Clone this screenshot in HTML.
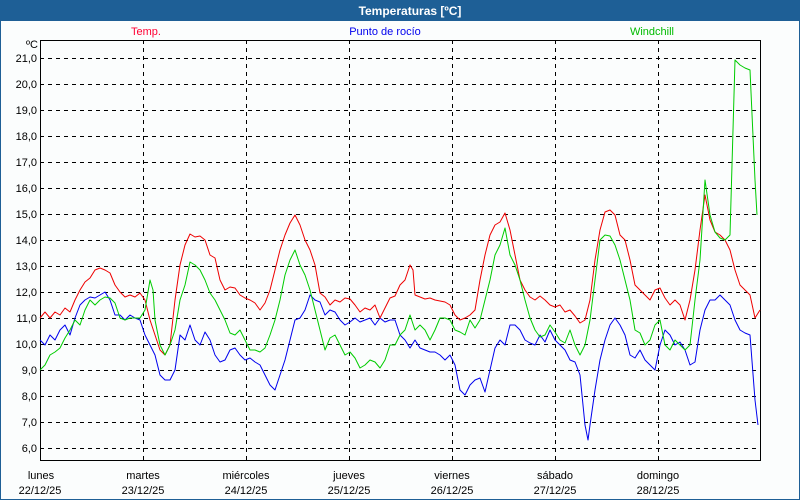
<!DOCTYPE html>
<html><head><meta charset="utf-8"><style>
html,body{margin:0;padding:0;background:#fff;}
svg{display:block;font-family:"Liberation Sans",sans-serif;}
</style></head><body>
<svg width="800" height="500" viewBox="0 0 800 500">
<rect x="0" y="0" width="800" height="500" fill="#fbfdfd"/>
<rect x="0" y="0" width="800" height="21" fill="#1e5f96"/>
<rect x="0.5" y="20.5" width="799" height="479" fill="none" stroke="#1e5f96"/>
<text x="410" y="15" fill="#fff" font-size="12" font-weight="bold" text-anchor="middle">Temperaturas [ºC]</text>
<text x="146" y="35" fill="#ff0033" font-size="11" text-anchor="middle">Temp.</text>
<text x="385" y="35" fill="#0000ee" font-size="11" text-anchor="middle">Punto de rocío</text>
<text x="652" y="35" fill="#00bb00" font-size="11" text-anchor="middle">Windchill</text>
<g stroke="#000" stroke-dasharray="4,4" stroke-width="1">
<line x1="40" x2="760" y1="58.5" y2="58.5"/><line x1="40" x2="760" y1="84.5" y2="84.5"/><line x1="40" x2="760" y1="110.5" y2="110.5"/><line x1="40" x2="760" y1="136.5" y2="136.5"/><line x1="40" x2="760" y1="162.5" y2="162.5"/><line x1="40" x2="760" y1="188.5" y2="188.5"/><line x1="40" x2="760" y1="214.5" y2="214.5"/><line x1="40" x2="760" y1="240.5" y2="240.5"/><line x1="40" x2="760" y1="266.5" y2="266.5"/><line x1="40" x2="760" y1="292.5" y2="292.5"/><line x1="40" x2="760" y1="318.5" y2="318.5"/><line x1="40" x2="760" y1="344.5" y2="344.5"/><line x1="40" x2="760" y1="370.5" y2="370.5"/><line x1="40" x2="760" y1="396.5" y2="396.5"/><line x1="40" x2="760" y1="422.5" y2="422.5"/><line x1="40" x2="760" y1="448.5" y2="448.5"/>
<line x1="143.5" x2="143.5" y1="40" y2="461"/><line x1="246.5" x2="246.5" y1="40" y2="461"/><line x1="349.5" x2="349.5" y1="40" y2="461"/><line x1="452.5" x2="452.5" y1="40" y2="461"/><line x1="555.5" x2="555.5" y1="40" y2="461"/><line x1="658.5" x2="658.5" y1="40" y2="461"/>
</g>
<rect x="40.5" y="40.5" width="720" height="420" fill="none" stroke="#000"/>
<g font-size="11" fill="#000" text-anchor="end">
<text x="38" y="48">ºC</text>
<text x="37" y="62">21,0</text><text x="37" y="88">20,0</text><text x="37" y="114">19,0</text><text x="37" y="140">18,0</text><text x="37" y="166">17,0</text><text x="37" y="192">16,0</text><text x="37" y="218">15,0</text><text x="37" y="244">14,0</text><text x="37" y="270">13,0</text><text x="37" y="296">12,0</text><text x="37" y="322">11,0</text><text x="37" y="348">10,0</text><text x="37" y="374">9,0</text><text x="37" y="400">8,0</text><text x="37" y="426">7,0</text><text x="37" y="452">6,0</text>
</g>
<g font-size="11" fill="#000" text-anchor="middle">
<text x="41" y="479">lunes</text><text x="40" y="494">22/12/25</text>
<text x="143" y="479">martes</text><text x="143" y="494">23/12/25</text>
<text x="246" y="479">miércoles</text><text x="246" y="494">24/12/25</text>
<text x="349" y="479">jueves</text><text x="349" y="494">25/12/25</text>
<text x="452" y="479">viernes</text><text x="452" y="494">26/12/25</text>
<text x="555" y="479">sábado</text><text x="555" y="494">27/12/25</text>
<text x="658" y="479">domingo</text><text x="658" y="494">28/12/25</text>
</g>
<g fill="none" stroke-width="1" stroke-linejoin="round">
<polyline stroke="#0000ee" points="40,340 45,345 50,335 55,340 60,330 65,325 70,335 75,318 80,305 85,300 90,297 95,298 100,295 105,292 110,300 115,315 120,315 125,320 130,315 135,318 140,320 145,335 150,345 155,355 160,375 165,380 170,380 175,370 180,335 185,340 190,325 195,340 200,345 205,332 210,340 215,355 220,362 225,360 230,350 235,348 240,355 245,360 250,358 255,362 260,365 265,375 270,385 275,390 280,375 285,360 290,340 295,320 300,318 305,310 310,295 315,300 320,302 325,315 330,310 335,312 340,320 345,325 350,322 355,318 360,322 365,320 370,318 375,325 380,318 385,322 390,320 395,320 400,335 405,340 410,348 415,340 420,348 425,350 430,352 435,352 440,355 445,360 450,355 455,365 460,390 465,395 470,385 475,380 480,378 485,392 490,370 495,348 500,340 505,345 510,325 515,325 520,330 525,340 530,343 535,345 540,335 545,342 550,330 555,340 560,345 565,350 570,360 575,362 580,375 585,425 588,440 590,425 595,390 600,360 605,340 610,325 615,318 620,325 625,335 630,355 635,358 640,350 645,360 650,365 655,370 660,345 665,330 670,335 675,345 680,342 685,350 690,365 695,362 700,330 705,310 710,300 715,300 720,295 725,300 730,305 735,320 740,330 745,333 750,335 755,400 758,425"/>
<polyline stroke="#ee0000" points="40,318 45,312 50,318 55,312 60,315 65,308 70,312 75,300 80,290 85,282 90,278 95,270 100,268 105,270 110,273 115,285 120,292 125,297 130,295 135,297 140,293 145,300 150,320 155,335 160,350 165,355 170,345 175,300 180,265 185,245 190,234 195,237 200,236 205,240 210,255 215,258 220,280 225,290 230,287 235,288 240,295 245,298 250,300 255,303 260,310 265,303 270,290 275,270 280,250 285,235 290,223 295,215 300,225 305,240 310,250 315,265 320,293 325,297 330,305 335,300 340,302 345,298 350,299 355,305 360,312 365,308 370,310 375,305 380,318 385,308 390,298 395,296 400,285 405,280 410,265 413,270 415,295 420,297 425,299 430,298 435,300 440,301 445,302 450,305 455,315 460,320 465,318 470,315 475,310 480,280 485,255 490,235 495,225 500,222 505,213 510,230 515,255 520,280 525,290 530,297 535,300 540,296 545,300 550,305 555,307 560,305 565,312 570,310 575,316 580,323 585,320 590,300 595,260 600,230 605,212 610,210 615,215 620,235 625,240 630,260 635,285 640,290 645,295 650,300 655,290 660,288 665,298 670,305 675,300 680,305 685,320 690,300 695,270 700,230 705,195 710,220 715,232 720,235 725,240 730,250 735,270 740,285 745,290 750,295 755,318 760,310"/>
<polyline stroke="#00cc00" points="40,370 45,365 50,355 55,352 60,348 65,338 70,330 75,320 80,325 85,310 90,300 95,305 100,300 105,297 110,298 115,303 120,318 125,320 130,318 135,318 140,318 145,310 150,280 153,290 155,320 160,345 165,355 170,345 175,330 180,300 185,285 190,262 195,265 200,270 205,280 210,293 215,300 220,310 225,320 230,333 235,335 240,330 245,340 250,350 255,350 260,352 265,348 270,335 275,320 280,300 285,275 290,260 295,250 300,265 305,275 310,290 315,310 320,330 325,350 330,338 335,335 340,345 345,355 350,352 355,358 360,368 365,365 370,360 375,362 380,368 385,360 390,345 395,345 400,335 405,330 410,315 415,330 420,325 425,330 430,340 435,330 440,318 445,318 450,320 455,330 460,332 465,335 470,320 475,328 480,320 485,300 490,280 495,255 500,245 505,228 510,255 515,265 520,280 525,300 530,318 535,330 540,337 545,335 550,325 555,332 560,340 565,343 570,330 575,345 580,355 585,345 590,320 595,280 600,240 605,235 610,236 615,245 620,260 625,280 630,300 635,330 640,333 645,345 650,340 655,325 660,320 665,345 670,350 675,340 680,345 685,350 690,345 695,300 700,260 705,180 710,215 715,232 720,238 725,240 730,235 735,60 740,65 745,68 750,70 755,180 757,215"/>
</g>
</svg>
</body></html>
